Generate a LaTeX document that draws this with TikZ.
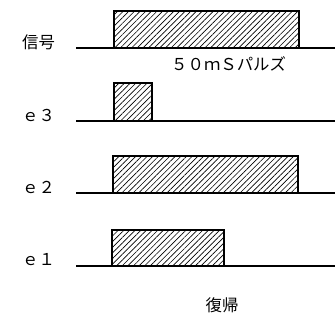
\documentclass[tikz,border=0pt]{standalone}
\usepackage{fontspec}
\newfontfamily\jpfont{Noto Sans CJK JP}
\usetikzlibrary{patterns.meta}
\tikzset{
  pulse/.style={draw, line width=1pt,
    pattern={Lines[angle=45, distance=3.4pt, line width=0.55pt]}},
  level/.style={line width=1pt},
  lab/.style={font=\jpfont\fontsize{14}{16}\selectfont, inner sep=0pt}
}
\begin{document}
\begin{tikzpicture}[x=0.03cm, y=-0.03cm]
    \useasboundingbox (0,0) rectangle (335,326);

    % Linhas de base
    \draw[level] (76,48) coordinate (s0) -- (335,48) coordinate (s1);
    \draw[level] (76,121) coordinate (a0) -- (335,121) coordinate (a1);
    \draw[level] (76,193) coordinate (b0) -- (335,193) coordinate (b1);
    \draw[level] (76,266) coordinate (c0) -- (335,266) coordinate (c1);

    % Pulsos
    \draw[pulse] (114,48) rectangle (299,11);
    \draw[pulse] (114,121) rectangle (152,83);
    \draw[pulse] (113,193) rectangle (298,156);
    \draw[pulse] (112,266) rectangle (224,230);

    % Rotulos
    \node[lab, anchor=west] (sig) at (22,42) {信号};
    \node[lab, anchor=west] (e3) at (22,115) {ｅ３};
    \node[lab, anchor=west] (e2) at (22,187) {ｅ２};
    \node[lab, anchor=west] (e1) at (22,260) {ｅ１};
    \node[lab, anchor=west] (pls) at (171,64) {５０ｍＳパルズ};
    \node[lab] (ret) at (222,305) {復帰};
\end{tikzpicture}
\end{document}
